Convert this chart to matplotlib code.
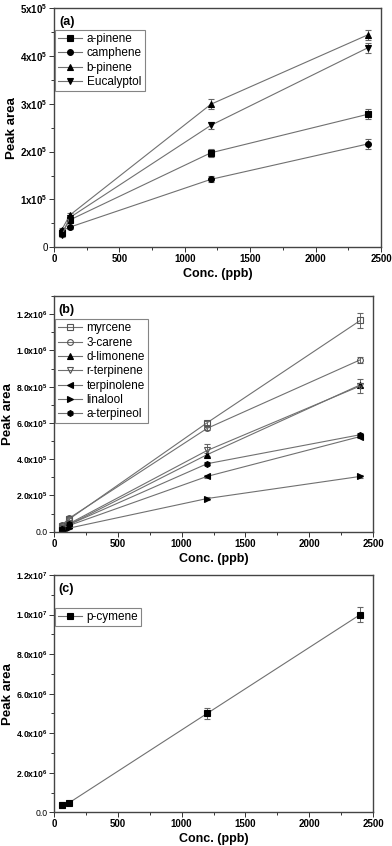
import matplotlib
matplotlib.use("Agg")
import matplotlib.pyplot as plt
from matplotlib.ticker import MultipleLocator, FixedLocator, FixedFormatter

plt.rcParams['font.family'] = ['Liberation Sans', 'DejaVu Sans']
plt.rcParams['mathtext.fontset'] = 'custom'
plt.rcParams['mathtext.rm'] = 'Liberation Sans:bold'
plt.rcParams['mathtext.bf'] = 'Liberation Sans:bold'
plt.rcParams['mathtext.default'] = 'rm'

conc = [60, 120, 1200, 2400]

# panel (a)
a_names = ['a-pinene', 'camphene', 'b-pinene', 'Eucalyptol']
a_markers = ['s', 'o', '^', 'v']
a_vals = [[0.30e5, 0.57e5, 1.975e5, 2.78e5],
          [0.35e5, 0.42e5, 1.42e5, 2.16e5],
          [0.37e5, 0.67e5, 2.99e5, 4.44e5],
          [0.25e5, 0.62e5, 2.55e5, 4.17e5]]
a_err = [[0.03e5, 0.04e5, 0.08e5, 0.10e5],
         [0.02e5, 0.03e5, 0.06e5, 0.10e5],
         [0.03e5, 0.05e5, 0.10e5, 0.10e5],
         [0.03e5, 0.04e5, 0.07e5, 0.10e5]]

# panel (b)
b_names = ['myrcene', '3-carene', 'd-limonene', 'r-terpinene', 'terpinolene', 'linalool', 'a-terpineol']
b_markers = ['s', 'o', '^', 'v', '<', '>', 'h']
b_fill = ['none', 'none', 'k', 'none', 'k', 'k', 'k']
b_vals = [[0.030e6, 0.070e6, 0.601e6, 1.165e6],
          [0.035e6, 0.075e6, 0.570e6, 0.948e6],
          [0.020e6, 0.040e6, 0.425e6, 0.810e6],
          [0.020e6, 0.045e6, 0.448e6, 0.804e6],
          [0.015e6, 0.035e6, 0.305e6, 0.525e6],
          [0.010e6, 0.020e6, 0.183e6, 0.305e6],
          [0.015e6, 0.040e6, 0.375e6, 0.535e6]]
b_err = [[0.005e6, 0.008e6, 0.010e6, 0.040e6],
         [0.005e6, 0.008e6, 0.010e6, 0.015e6],
         [0.004e6, 0.006e6, 0.010e6, 0.010e6],
         [0.004e6, 0.006e6, 0.035e6, 0.040e6],
         [0.003e6, 0.005e6, 0.008e6, 0.010e6],
         [0.003e6, 0.004e6, 0.006e6, 0.008e6],
         [0.003e6, 0.005e6, 0.008e6, 0.010e6]]

# panel (c)
c_names = ['p-cymene']
c_vals = [[0.35e6, 0.49e6, 5.0e6, 10.0e6]]
c_err = [[0.15e6, 0.05e6, 0.30e6, 0.40e6]]

a_yticks = [0, 1e5, 2e5, 3e5, 4e5, 5e5]
a_ylabels = ['0', r'$1x10^5$', r'$2x10^5$', r'$3x10^5$', r'$4x10^5$', r'$5x10^5$']
b_yticks = [0, 0.2e6, 0.4e6, 0.6e6, 0.8e6, 1.0e6, 1.2e6]
b_ylabels = ['0.0', r'$2.0x10^5$', r'$4.0x10^5$', r'$6.0x10^5$', r'$8.0x10^5$', r'$1.0x10^6$', r'$1.2x10^6$']
c_yticks = [0, 2e6, 4e6, 6e6, 8e6, 10e6, 12e6]
c_ylabels = ['0.0', r'$2.0x10^6$', r'$4.0x10^6$', r'$6.0x10^6$', r'$8.0x10^6$', r'$1.0x10^7$', r'$1.2x10^7$']

fig = plt.figure(figsize=(3.92, 8.46), dpi=100)
ax_a = fig.add_axes([0.1378, 0.7077, 0.834, 0.2828])
ax_b = fig.add_axes([0.1378, 0.3715, 0.8137, 0.2786])
ax_c = fig.add_axes([0.1378, 0.0398, 0.8137, 0.2805])

line_col = '#707070'


def draw(ax, names, markers, fills, vals, errs):
    handles = []
    for name, m, f, v, e in zip(names, markers, fills, vals, errs):
        cont = ax.errorbar(conc, v, yerr=e, color=line_col, lw=0.8, marker=m, ms=4.2,
                           mfc=f, mec='k' if f != 'none' else '#555555', mew=0.8,
                           ecolor='#666666', elinewidth=0.7, capsize=2, capthick=0.7)
        handles.append(cont.lines[0])
    return handles


def style(ax, handles, names, ylim, yticks, ylabels, yminor, tag, leg_y, w_px, ysize, lab_x):
    ax.set_xlim(0, 2500)
    ax.set_ylim(*ylim)
    ax.xaxis.set_major_locator(MultipleLocator(500))
    ax.xaxis.set_minor_locator(MultipleLocator(250))
    ax.yaxis.set_major_locator(FixedLocator(yticks))
    ax.yaxis.set_major_formatter(FixedFormatter(ylabels))
    ax.yaxis.set_minor_locator(MultipleLocator(yminor))
    ax.tick_params(which='both', direction='out', top=False, right=False,
                   labelsize=7, width=0.7, colors='#333333', labelcolor='k', pad=1.5)
    ax.tick_params(axis='y', labelsize=ysize, pad=1)
    ax.tick_params(which='major', length=3.5)
    ax.tick_params(which='minor', length=2)
    for lbl in ax.get_xticklabels():
        lbl.set_fontweight('bold')
    for sp in ax.spines.values():
        sp.set_color('#444444')
        sp.set_linewidth(1.0)
    ax.set_xlabel('Conc. (ppb)', fontsize=9, fontweight='bold', labelpad=3)
    ax.set_ylabel('Peak area', fontsize=9.5, fontweight='bold')
    ax.yaxis.set_label_coords(lab_x / w_px, 0.5)
    ax.text(0.015, 0.965, tag, transform=ax.transAxes, fontsize=9,
            fontweight='bold', va='top', ha='left')
    leg = ax.legend(handles, names, loc='upper left', bbox_to_anchor=(0.004, leg_y),
                    fontsize=8.5, frameon=True, fancybox=False, edgecolor='#666666',
                    handlelength=2.0, handletextpad=0.4, labelspacing=0.2,
                    borderpad=0.25, borderaxespad=0)
    leg.get_frame().set_linewidth(0.8)


h = draw(ax_a, a_names, a_markers, ['k'] * 4, a_vals, a_err)
style(ax_a, h, a_names, (0, 5e5), a_yticks, a_ylabels, 0.5e5, '(a)', 0.908, 327, 7, -36.0)

h = draw(ax_b, b_names, b_markers, b_fill, b_vals, b_err)
style(ax_b, h, b_names, (0, 1.3e6), b_yticks, b_ylabels, 0.1e6, '(b)', 0.901, 319, 6.2, -40.0)

h = draw(ax_c, c_names, ['s'], ['k'], c_vals, c_err)
style(ax_c, h, c_names, (0, 1.2e7), c_yticks, c_ylabels, 1e6, '(c)', 0.862, 319, 6.2, -40.0)

fig.savefig('out.png', dpi=100)
